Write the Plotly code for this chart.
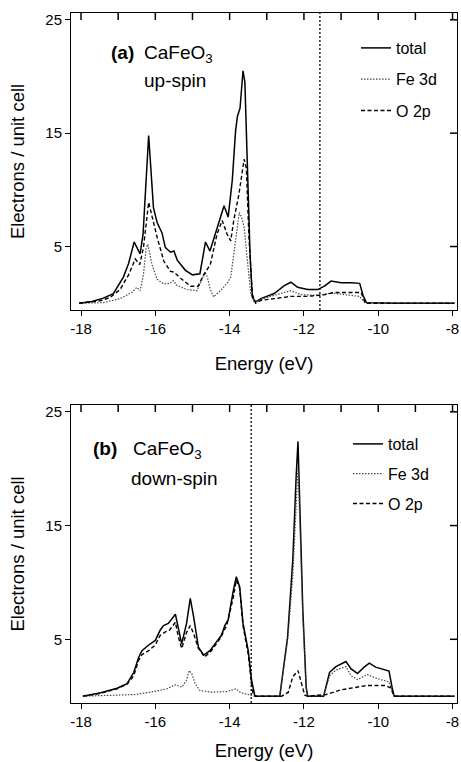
import plotly.graph_objects as go

# ---------------- data ----------------
up_total_E = [-18.05, -17.7, -17.4, -17.13, -16.86, -16.72, -16.57, -16.41, -16.33, -16.18, -16.05, -15.95,
              -15.82, -15.73, -15.59, -15.5, -15.41, -15.19, -15.0, -14.8, -14.65, -14.53, -14.33, -14.15,
              -14.04, -13.93, -13.84, -13.79, -13.72, -13.64, -13.59, -13.52, -13.45, -13.39, -13.3, -13.16,
              -12.8, -12.53, -12.35, -12.17, -11.9, -11.63, -11.45, -11.27, -11.0, -10.73, -10.5, -10.41,
              -10.32, -9.5, -7.95]
up_total_N = [0.0, 0.15, 0.45, 0.85, 2.3, 3.5, 5.4, 4.35, 6.1, 14.8, 8.4, 7.1,
              6.2, 4.9, 4.5, 4.6, 3.8, 2.9, 2.5, 2.6, 5.4, 4.6, 6.7, 8.6,
              7.6, 10.8, 15.2, 16.5, 17.2, 20.5, 19.5, 11.7, 4.3, 0.55, 0.1, 0.4,
              0.85, 1.55, 1.85, 1.4, 1.2, 1.2, 1.5, 1.95, 1.8, 1.8, 1.75, 0.7,
              0.05, 0.0, 0.0]

up_fe_E = [-18.05, -17.4, -16.95, -16.63, -16.5, -16.41, -16.32, -16.25, -16.2, -16.09, -15.95, -15.77,
           -15.6, -15.52, -15.41, -15.14, -14.88, -14.66, -14.6, -14.52, -14.43, -14.25, -14.07, -13.97,
           -13.89, -13.74, -13.68, -13.61, -13.52, -13.43, -13.34, -13.25, -12.8, -12.35, -12.08, -11.63,
           -11.27, -10.82, -10.5, -10.35, -7.95]
up_fe_N = [0.0, 0.05, 0.4, 0.95, 1.4, 1.1, 2.5, 4.8, 5.2, 3.4, 2.1, 1.7,
           1.75, 2.0, 1.55, 1.2, 1.1, 2.7, 2.3, 1.2, 0.55, 1.1, 1.75, 2.3,
           4.3, 8.0, 7.6, 6.7, 3.7, 0.8, 0.1, 0.25, 0.7, 1.1, 0.75, 0.7,
           0.9, 0.7, 0.6, 0.0, 0.0]

up_o2p_E = [-18.05, -17.5, -17.22, -16.95, -16.72, -16.54, -16.42, -16.32, -16.18, -16.09, -15.95, -15.77,
            -15.59, -15.5, -15.32, -15.05, -14.85, -14.7, -14.52, -14.34, -14.2, -14.07, -13.97, -13.89,
            -13.75, -13.61, -13.55, -13.48, -13.39, -13.3, -13.16, -12.8, -12.35, -11.9, -11.45, -11.18,
            -10.73, -10.46, -10.35, -7.95]
up_o2p_N = [0.0, 0.2, 0.5, 1.2, 2.5, 3.9, 3.4, 4.9, 8.9, 7.6, 5.8, 3.7,
            2.8, 2.75, 2.2, 1.5, 1.5, 2.5, 3.4, 6.1, 7.3, 6.1, 5.5, 7.3,
            9.6, 12.7, 11.9, 5.8, 0.8, 0.0, 0.25, 0.4, 0.6, 0.6, 0.75, 0.95,
            0.95, 0.95, 0.0, 0.0]

dn_total_E = [-17.95, -17.47, -17.03, -16.76, -16.58, -16.45, -16.36, -16.18, -16.0, -15.87, -15.78, -15.65,
              -15.46, -15.38, -15.29, -15.16, -15.06, -14.97, -14.84, -14.7, -14.53, -14.35, -14.22, -14.13,
              -14.04, -13.9, -13.82, -13.73, -13.64, -13.5, -13.41, -13.32, -12.65, -12.44, -12.3, -12.21,
              -12.16, -12.12, -12.03, -11.94, -11.9, -11.47, -11.31, -11.14, -11.0, -10.87, -10.73, -10.56,
              -10.38, -10.24, -10.07, -9.89, -9.71, -9.62, -9.57, -7.95]
dn_total_N = [0.0, 0.3, 0.7, 1.1, 2.1, 3.4, 4.0, 4.5, 4.9, 5.8, 6.2, 6.4,
              7.2, 5.9, 4.6, 6.4, 8.6, 7.0, 4.3, 3.6, 4.0, 4.8, 5.35, 6.2,
              6.7, 9.3, 10.5, 9.6, 6.4, 4.0, 1.4, 0.0, 0.0, 5.2, 12.0, 19.3,
              22.4, 17.8, 7.6, 0.8, 0.0, 0.0, 2.1, 2.6, 2.8, 3.05, 2.4, 2.0,
              2.55, 2.9, 2.55, 2.4, 2.2, 0.65, 0.0, 0.0]

dn_fe_E = [-17.95, -16.5, -15.96, -15.69, -15.46, -15.29, -15.16, -15.09, -15.02, -14.93, -14.8, -14.5,
           -14.08, -13.83, -13.7, -13.47, -13.32, -12.65, -12.44, -12.3, -12.21, -12.16, -12.12, -12.03,
           -11.94, -11.9, -11.47, -11.31, -11.14, -10.87, -10.73, -10.56, -10.3, -10.03, -9.71, -9.62,
           -9.57, -7.95]
dn_fe_N = [0.0, 0.15, 0.45, 0.65, 1.0, 0.8, 1.4, 2.25, 2.0, 1.1, 0.5, 0.35,
           0.4, 0.65, 0.3, 0.1, 0.0, 0.0, 4.9, 10.5, 17.2, 20.1, 16.3, 7.0,
           0.7, 0.0, 0.0, 1.8, 2.3, 2.6, 1.8, 1.45, 1.9, 1.55, 1.25, 0.5,
           0.0, 0.0]

dn_o2p_E = [-17.95, -17.47, -17.03, -16.76, -16.58, -16.45, -16.36, -16.18, -16.0, -15.87, -15.73, -15.62,
            -15.46, -15.38, -15.29, -15.16, -15.06, -14.97, -14.84, -14.67, -14.49, -14.26, -14.08, -13.9,
            -13.82, -13.73, -13.64, -13.5, -13.41, -13.37, -13.3, -12.6, -12.42, -12.3, -12.16, -12.08,
            -11.98, -11.9, -11.4, -11.0, -10.65, -10.3, -9.8, -9.67, -9.57, -7.95]
dn_o2p_N = [0.0, 0.25, 0.65, 1.05, 1.8, 3.15, 3.65, 4.0, 4.5, 5.35, 5.65, 5.8,
            6.5, 5.2, 4.2, 5.6, 6.2, 5.5, 4.2, 3.45, 4.0, 5.05, 6.2, 8.7,
            10.2, 9.5, 6.2, 3.7, 1.05, 0.2, 0.0, 0.0, 0.35, 1.7, 2.25, 1.2,
            0.1, 0.0, 0.15, 0.56, 0.74, 0.94, 0.94, 0.74, 0.0, 0.0]

fermi_up = -11.57
fermi_dn = -13.42

x_tickvals = [-18, -16, -14, -12, -10, -8]
x_ticktext = ["-18", "-16", "-14", "-12", "-10", "-8"]
x_minor_ticks = [-18, -17, -16, -15, -14, -13, -12, -11, -10, -9, -8]
y_tickvals = [5, 15, 25]
y_ticktext = ["5", "15", "25"]
series_names = ["total", "Fe 3d", "O 2p"]

# ---------------- figure ----------------
W, H = 461, 762
ML, MR, MT, MB = 71, 4, 13, 59
PW, PH = W - ML - MR, H - MT - MB


def px_x(p):
    return (p - ML) / PW


def px_y(p):
    return (H - MB - p) / PH


FONT = "Liberation Sans, Arial, Helvetica, sans-serif"
XR = [-18.27, -7.88]
YR = [-0.6, 25.6]

styles = [dict(color="black", width=1.5),
          dict(color="#444444", width=1.2, dash="1.5px,1.5px"),
          dict(color="black", width=1.4, dash="4px,2.5px")]

fig = go.Figure()
panels = [
    ("x", "y", "legend", [(up_total_E, up_total_N), (up_fe_E, up_fe_N), (up_o2p_E, up_o2p_N)]),
    ("x2", "y2", "legend2", [(dn_total_E, dn_total_N), (dn_fe_E, dn_fe_N), (dn_o2p_E, dn_o2p_N)]),
]
for xa, ya, lg, series in panels:
    for i, (E, N) in enumerate(series):
        fig.add_trace(go.Scatter(x=E, y=N, mode="lines", name=series_names[i], line=styles[i],
                                 xaxis=xa, yaxis=ya, legend=lg, legendgroup=lg + str(i),
                                 hoverinfo="skip"))

top_px = (13, 310)
bot_px = (405, 703)
top_dom = [px_y(top_px[1]), px_y(top_px[0])]
bot_dom = [px_y(bot_px[1]), px_y(bot_px[0])]

base_x = dict(range=XR, tickvals=x_tickvals, ticktext=x_ticktext, ticks="outside", ticklen=5,
              tickwidth=1, tickcolor="black", showline=True, linecolor="black", linewidth=1, mirror=True,
              showgrid=False, zeroline=False, tickfont=dict(size=15), automargin=False)
base_y = dict(range=YR, tickvals=y_tickvals, ticktext=y_ticktext, ticks="outside", ticklen=5,
              tickwidth=1, tickcolor="black", showline=True, linecolor="black", linewidth=1, mirror=True,
              showgrid=False, zeroline=False, tickfont=dict(size=15), automargin=False,
              title=dict(text="Electrons / unit cell", font=dict(size=18.5), standoff=15))

# inside ticks on the top and right frame edges (positions follow the axis ranges and tick lists)
shapes = []
for (p0, p1) in [top_px, bot_px]:
    for v in x_minor_ticks:
        xp = (v - XR[0]) / (XR[1] - XR[0])
        shapes.append(dict(type="line", xref="paper", yref="paper", x0=xp, x1=xp,
                           y0=px_y(p0), y1=px_y(p0 + 7), line=dict(color="black", width=1.5)))
    for v in y_tickvals:
        frac = (v - YR[0]) / (YR[1] - YR[0])
        yp = px_y(p1) + frac * (px_y(p0) - px_y(p1))
        shapes.append(dict(type="line", xref="paper", yref="paper", x0=1.0, x1=1.0 - 7.0 / PW,
                           y0=yp, y1=yp, line=dict(color="black", width=1.5)))
shapes.append(dict(type="line", xref="x", yref="y domain", x0=fermi_up, x1=fermi_up, y0=0, y1=1,
                   line=dict(color="black", width=1.3, dash="2px,2px")))
shapes.append(dict(type="line", xref="x2", yref="y2 domain", x0=fermi_dn, x1=fermi_dn, y0=0, y1=1,
                   line=dict(color="black", width=1.3, dash="2px,2px")))

ann_font = dict(size=19)
fig.update_layout(
    width=W, height=H, margin=dict(l=ML, r=MR, t=MT, b=MB),
    paper_bgcolor="white", plot_bgcolor="white",
    font=dict(family=FONT, color="black", size=16),
    xaxis=dict(base_x, domain=[0, 1], anchor="y",
               title=dict(text="Energy (eV)", font=dict(size=18.5), standoff=21)),
    yaxis=dict(base_y, domain=top_dom, anchor="x"),
    xaxis2=dict(base_x, domain=[0, 1], anchor="y2",
                title=dict(text="Energy (eV)", font=dict(size=18.5), standoff=15)),
    yaxis2=dict(base_y, domain=bot_dom, anchor="x2"),
    legend=dict(x=px_x(356), y=px_y(31), xanchor="left", yanchor="top", bgcolor="rgba(0,0,0,0)",
                tracegroupgap=7.5, font=dict(size=16)),
    legend2=dict(x=px_x(348), y=px_y(427), xanchor="left", yanchor="top", bgcolor="rgba(0,0,0,0)",
                 tracegroupgap=6, font=dict(size=16)),
    showlegend=True,
    shapes=shapes,
    annotations=[
        dict(text="<b>(a)</b>", xref="paper", yref="paper", x=px_x(109), y=px_y(52),
             xanchor="left", yanchor="middle", showarrow=False, font=ann_font),
        dict(text="CaFeO<sub>3</sub>", xref="paper", yref="paper", x=px_x(142), y=px_y(54),
             xanchor="left", yanchor="middle", showarrow=False, font=ann_font),
        dict(text="up-spin", xref="paper", yref="paper", x=px_x(142), y=px_y(81),
             xanchor="left", yanchor="middle", showarrow=False, font=ann_font),
        dict(text="<b>(b)</b>", xref="paper", yref="paper", x=px_x(91), y=px_y(448),
             xanchor="left", yanchor="middle", showarrow=False, font=ann_font),
        dict(text="CaFeO<sub>3</sub>", xref="paper", yref="paper", x=px_x(131), y=px_y(450),
             xanchor="left", yanchor="middle", showarrow=False, font=ann_font),
        dict(text="down-spin", xref="paper", yref="paper", x=px_x(129), y=px_y(478),
             xanchor="left", yanchor="middle", showarrow=False, font=ann_font),
    ],
)

fig.write_html("out.html")
